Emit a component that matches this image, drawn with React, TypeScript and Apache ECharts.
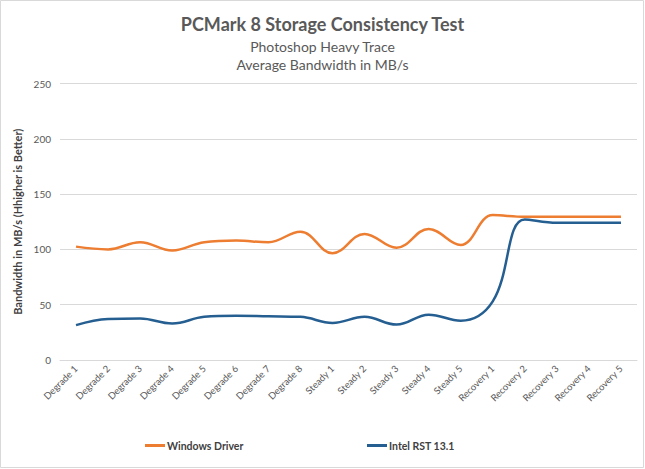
import React, { useEffect, useRef } from "react";
import * as echarts from "echarts";

const categories = [
  "Degrade 1", "Degrade 2", "Degrade 3", "Degrade 4", "Degrade 5", "Degrade 6", "Degrade 7", "Degrade 8",
  "Steady 1", "Steady 2", "Steady 3", "Steady 4", "Steady 5",
  "Recovery 1", "Recovery 2", "Recovery 3", "Recovery 4", "Recovery 5",
];
const windowsDriver = [102.5, 100, 106.5, 99, 106.5, 108, 106.5, 116, 96.5, 114, 101.5, 118.5, 104, 131, 129.5, 129.5, 129.5, 129.5];
const intelRst = [31.5, 37, 37.5, 33, 39, 40, 39.5, 39, 33.5, 39, 32, 41, 35.5, 53, 127, 124, 124, 124];
const yTicks = { min: 0, max: 250, interval: 50 };

const FONT = "Lato, 'Open Sans', sans-serif";

export default function App() {
  const ref = useRef<HTMLDivElement>(null);
  useEffect(() => {
    document.body.style.margin = "0";
    const chart = echarts.init(ref.current!, undefined, { renderer: "svg" });
    chart.setOption({
      animation: false,
      backgroundColor: "#ffffff",
      textStyle: { fontFamily: FONT },
      title: [
        {
          text: "PCMark 8 Storage Consistency Test",
          left: "center",
          top: 10,
          textStyle: { fontSize: 18, fontWeight: "bold", color: "#595959", fontFamily: FONT },
        },
        {
          text: "Photoshop Heavy Trace\nAverage Bandwidth in MB/s",
          left: "center",
          top: 32,
          textStyle: { fontSize: 14, fontWeight: "normal", color: "#595959", lineHeight: 18.5, fontFamily: FONT },
        },
      ],
      legend: [
        {
          data: ["Windows Driver"],
          left: 140,
          top: 435,
          icon: "rect",
          itemWidth: 20,
          itemHeight: 3,
          itemGap: 4,
          textStyle: { fontSize: 10.5, color: "#404040", fontWeight: "bold", fontFamily: FONT, padding: [0, 0, 0, -3] },
        },
        {
          data: ["Intel RST 13.1"],
          left: 362,
          top: 435,
          icon: "rect",
          itemWidth: 20,
          itemHeight: 3,
          textStyle: { fontSize: 10.5, color: "#404040", fontWeight: "bold", fontFamily: FONT, padding: [0, 0, 0, -3] },
        },
      ],
      grid: { left: 60, right: 8, top: 83.5, bottom: 109, containLabel: false },
      xAxis: {
        type: "category",
        data: categories,
        boundaryGap: true,
        axisLine: { show: true, lineStyle: { color: "#d9d9d9" } },
        axisTick: { show: false },
        axisLabel: { rotate: 45, fontSize: 9.5, color: "#595959", margin: 7, interval: 0, fontFamily: FONT },
      },
      yAxis: {
        type: "value",
        min: yTicks.min,
        max: yTicks.max,
        interval: yTicks.interval,
        name: "Bandwidth in MB/s (Hhigher is Better)",
        nameLocation: "middle",
        nameGap: 27,
        nameTextStyle: { fontSize: 11, fontWeight: "bold", color: "#404040", fontFamily: FONT },
        axisLine: { show: false },
        axisTick: { show: false },
        axisLabel: { fontSize: 10, color: "#595959", margin: 9, fontFamily: FONT },
        splitLine: { lineStyle: { color: "#d9d9d9", width: 1 } },
      },
      series: [
        {
          name: "Windows Driver",
          type: "line",
          data: windowsDriver,
          smooth: 0.4,
          symbol: "none",
          lineStyle: { color: "#ED7D31", width: 2.5 },
          itemStyle: { color: "#ED7D31" },
        },
        {
          name: "Intel RST 13.1",
          type: "line",
          data: intelRst,
          smooth: 0.4,
          symbol: "none",
          lineStyle: { color: "#255E91", width: 2.5 },
          itemStyle: { color: "#255E91" },
        },
      ],
      graphic: [
        {
          type: "rect",
          shape: { x: 0.5, y: 0.5, width: 643, height: 467 },
          style: { fill: "none", stroke: "#d9d9d9", lineWidth: 1 },
          silent: true,
        },
      ],
    });
    return () => chart.dispose();
  }, []);
  return <div ref={ref} style={{ width: 645, height: 469, position: "absolute", left: 0, top: 0 }} />;
}
